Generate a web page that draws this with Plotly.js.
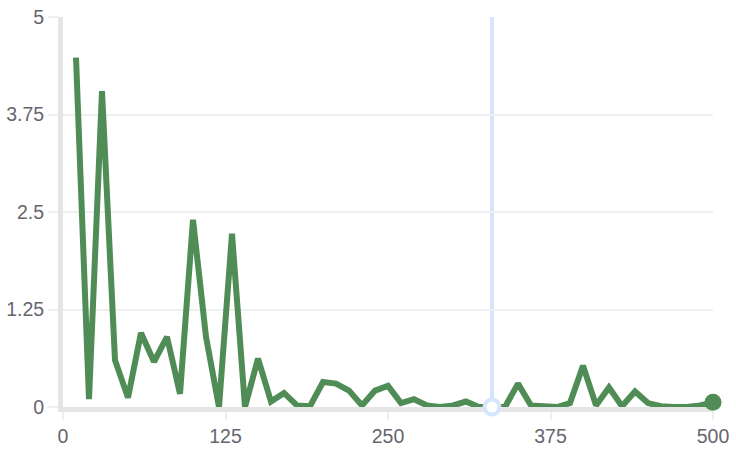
<!DOCTYPE html>
<html>
<head>
<meta charset="utf-8">
<script src="https://cdn.plot.ly/plotly-3.0.1.min.js"></script>
<style>html,body{margin:0;padding:0;background:#fff;}#chart{width:736px;height:457px;}</style>
</head>
<body>
<div id="chart"></div>
<script>
const xValues = [10,20,30,40,50,60,70,80,90,100,110,120,130,140,150,160,170,180,190,200,210,220,230,240,250,260,270,280,290,300,310,320,330,340,350,360,370,380,390,400,410,420,430,440,450,460,470,480,490,500];
const yValues = [4.48,0.1,4.05,0.6,0.12,0.95,0.58,0.9,0.17,2.4,0.9,0.0,2.22,0.0,0.62,0.07,0.18,0.02,0.01,0.32,0.3,0.21,0.02,0.21,0.27,0.05,0.1,0.02,0.0,0.02,0.07,0.0,0.0,0.0,0.3,0.02,0.01,0.0,0.05,0.53,0.02,0.25,0.01,0.2,0.05,0.01,0.0,0.0,0.02,0.06];
const xTicks = [0,125,250,375,500];
const yTicks = [0,1.25,2.5,3.75,5];
const yTickText = ["0","1.25","2.5","3.75","5"];
const hoverIndex = 32;

const green = "#508c56";
const hoverBlue = "#d5e5fb";
const lastIdx = xValues.length - 1;

const traces = [
  {
    x: xValues, y: yValues, type: "scatter", mode: "lines",
    line: {color: green, width: 6, shape: "linear"},
    hoverinfo: "skip", cliponaxis: false
  },
  {
    x: [xValues[lastIdx]], y: [yValues[lastIdx]], type: "scatter", mode: "markers",
    marker: {color: green, size: 17, line: {width: 0}},
    hoverinfo: "skip", cliponaxis: false
  },
  {
    x: [xValues[hoverIndex]], y: [yValues[hoverIndex]], type: "scatter", mode: "markers",
    marker: {color: "#ffffff", size: 15, line: {color: hoverBlue, width: 4}},
    hoverinfo: "skip", cliponaxis: false
  }
];

const layout = {
  width: 736, height: 457,
  margin: {l: 63, r: 23, t: 17, b: 50},
  paper_bgcolor: "#ffffff", plot_bgcolor: "#ffffff",
  showlegend: false,
  font: {family: "Liberation Sans, Arial, sans-serif", size: 19.5, color: "#666670"},
  xaxis: {
    range: [0, 500], tickmode: "array", tickvals: xTicks, ticktext: xTicks.map(String),
    showgrid: false, zeroline: false,
    showline: true, linecolor: "#e5e5e5", linewidth: 5,
    ticks: "outside", ticklen: 8, tickwidth: 2, tickcolor: "#eeeeee",
    tickfont: {size: 19.5, color: "#666670"}, fixedrange: true, layer: "below traces"
  },
  yaxis: {
    range: [0, 5], tickmode: "array", tickvals: yTicks, ticktext: yTickText,
    showgrid: true, gridcolor: "#efefef", gridwidth: 2, zeroline: false,
    showline: true, linecolor: "#e5e5e5", linewidth: 5,
    ticks: "outside", ticklen: 10, tickwidth: 2, tickcolor: "#eeeeee",
    tickfont: {size: 19.5, color: "#666670"}, fixedrange: true, layer: "below traces"
  },
  shapes: [
    {type: "line", xref: "x", yref: "paper", x0: xValues[hoverIndex], x1: xValues[hoverIndex], y0: 0, y1: 1,
     line: {color: hoverBlue, width: 4}, layer: "below"}
  ]
};

Plotly.newPlot("chart", traces, layout, {displayModeBar: false, staticPlot: true});
</script>
</body>
</html>
